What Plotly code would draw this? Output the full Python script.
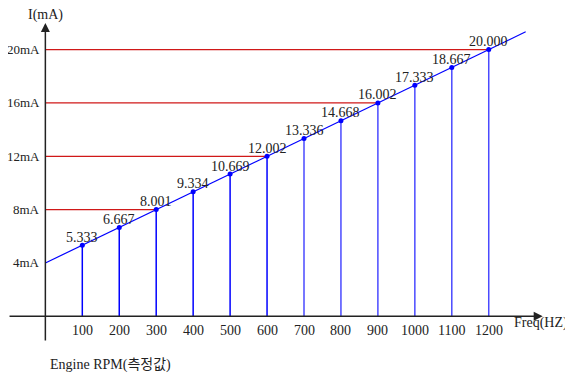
import plotly.graph_objects as go

# ---- data ----
freq = [100, 200, 300, 400, 500, 600, 700, 800, 900, 1000, 1100, 1200]
current = [5.333, 6.667, 8.001, 9.334, 10.669, 12.002, 13.336, 14.668, 16.002, 17.333, 18.667, 20.000]
value_labels = ["5.333", "6.667", "8.001", "9.334", "10.669", "12.002", "13.336", "14.668",
                "16.002", "17.333", "18.667", "20.000"]
y_ticks = [4, 8, 12, 16, 20]
y_tick_labels = ["4mA", "8mA", "12mA", "16mA", "20mA"]
red_levels = [8, 12, 16, 20]
red_ends = [300, 600, 900, 1200]
trend_x = [0, 1300]
trend_y = [4, 21.333]

FONT = "Liberation Serif, Times New Roman, serif"
fig = go.Figure()

# red reference lines
for lvl, end in zip(red_levels, red_ends):
    fig.add_trace(go.Scatter(x=[0, end], y=[lvl, lvl], mode="lines",
                             line=dict(color="#d01818", width=1.2), hoverinfo="skip"))

# stems
stem_colors = ["#0000ff"] * 6 + ["#4a4aff"] * 6
for f, c, col in zip(freq, current, stem_colors):
    fig.add_trace(go.Scatter(x=[f, f], y=[0, c], mode="lines",
                             line=dict(color=col, width=1.5), hoverinfo="skip"))

# trend line
fig.add_trace(go.Scatter(x=trend_x, y=trend_y, mode="lines",
                         line=dict(color="#0000ff", width=1.2), hoverinfo="skip"))
# points
fig.add_trace(go.Scatter(x=freq, y=current, mode="markers",
                         marker=dict(color="#0000ff", size=5), hoverinfo="skip"))

ann = []
# axes with arrows
ann.append(dict(x=0, y=22.0, ax=0, ay=-1.93, xref="x", yref="y", axref="x", ayref="y",
                showarrow=True, arrowhead=2, arrowsize=1.2, arrowwidth=1.5, arrowcolor="#222",
                text=""))
ann.append(dict(x=1346, y=0, ax=-101, ay=0, xref="x", yref="y", axref="x", ayref="y",
                showarrow=True, arrowhead=2, arrowsize=1.2, arrowwidth=1.5, arrowcolor="#222",
                text=""))
# value labels
for f, c, t in zip(freq, current, value_labels):
    ann.append(dict(x=f, y=c, text=t, showarrow=False, yanchor="middle", xanchor="center",
                    yshift=8, font=dict(family=FONT, size=14, color="#222")))
# y tick labels
for v, t in zip(y_ticks, y_tick_labels):
    ann.append(dict(x=-8, y=v, text=t, showarrow=False, xanchor="right", yanchor="middle",
                    font=dict(family=FONT, size=13, color="#222")))
# x tick labels
for f in freq:
    ann.append(dict(x=f, y=-1.03, text=str(f), showarrow=False, xanchor="center", yanchor="middle",
                    font=dict(family=FONT, size=14, color="#222")))
ann.append(dict(x=0, y=22.6, text="I(mA)", showarrow=False, xanchor="center", yanchor="middle",
                font=dict(family=FONT, size=14, color="#222")))
ann.append(dict(x=1264, y=-0.5, text="Freq(HZ)", showarrow=False, xanchor="left", yanchor="middle",
                font=dict(family=FONT, size=14, color="#222")))
ann.append(dict(x=7, y=-3.67, text="Engine RPM(측정값)", showarrow=False, xanchor="left",
                yanchor="middle",
                font=dict(family="Liberation Serif, Noto Sans CJK KR, serif", size=14, color="#222")))

fig.update_layout(
    width=573, height=373, margin=dict(l=0, r=0, t=0, b=0),
    paper_bgcolor="white", plot_bgcolor="white", showlegend=False,
    xaxis=dict(range=[-101.1, 1449.7], visible=False, fixedrange=True),
    yaxis=dict(range=[-4.85, 23.12], visible=False, fixedrange=True),
    annotations=ann,
)
fig.write_html("out.html")
